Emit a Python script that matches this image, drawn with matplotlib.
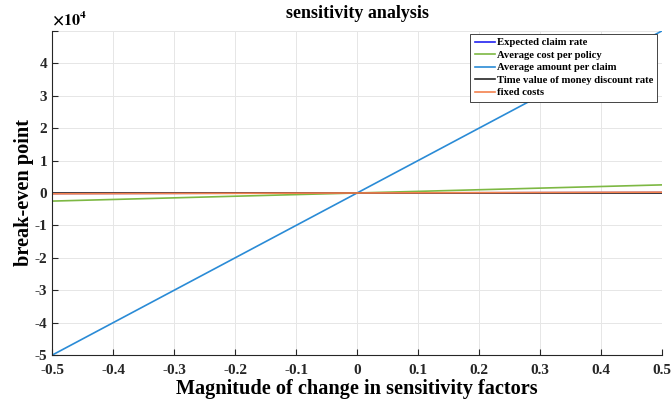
import matplotlib
matplotlib.use("Agg")
import matplotlib.pyplot as plt
from matplotlib.ticker import FuncFormatter, MultipleLocator

x = [-0.5, -0.4, -0.3, -0.2, -0.1, 0.0, 0.1, 0.2, 0.3, 0.4, 0.5]
expected_claim_rate = [-150, -120, -90, -60, -30, 0, 30, 60, 90, 120, 150]
avg_cost_per_policy = [-2500, -2000, -1500, -1000, -500, 0, 500, 1000, 1500, 2000, 2500]
avg_amount_per_claim = [-50000, -40000, -30000, -20000, -10000, 0, 10000, 20000, 30000, 40000, 50000]
time_value_discount = [0, 0, 0, 0, 0, 0, 0, 0, 0, 0, 0]
fixed_costs = [-250, -200, -150, -100, -50, 0, 50, 100, 150, 200, 250]

series = [
    ("Expected claim rate", expected_claim_rate, "#2323F0"),
    ("Average cost per policy", avg_cost_per_policy, "#7DB843"),
    ("Average amount per claim", avg_amount_per_claim, "#2A8BD6"),
    ("Time value of money discount rate", time_value_discount, "#262626"),
    ("fixed costs", fixed_costs, "#F4824E"),
]

plt.rcParams['font.family'] = ['Liberation Serif', 'DejaVu Serif']
plt.rcParams['font.weight'] = 'bold'
plt.rcParams['mathtext.fontset'] = 'stix'

fig = plt.figure(figsize=(6.72, 4.05), dpi=100)
ax = fig.add_axes([0.0774, 0.123, 0.908, 0.801])

for name, vals, col in series:
    ax.plot(x, vals, color=col, lw=1.2, label=name)

ax.set_xlim(-0.5, 0.5)
ax.set_ylim(-50000, 50000)
ax.xaxis.set_major_locator(MultipleLocator(0.1))
ax.yaxis.set_major_locator(MultipleLocator(10000))


def xfmt(v, p):
    return "0" if abs(v) < 1e-9 else f"{v:.1f}"


def yfmt(v, p):
    if v > 45000:
        return ""
    if abs(v) < 1:
        return "0"
    return f"{v/1e4:.0f}"


ax.xaxis.set_major_formatter(FuncFormatter(xfmt))
ax.yaxis.set_major_formatter(FuncFormatter(yfmt))
ax.tick_params(direction='in', labelsize=11, length=4, width=0.8, colors='#262626', top=False, right=False)
ax.tick_params(axis='x', pad=6)
for lbl in ax.get_xticklabels() + ax.get_yticklabels():
    lbl.set_fontweight('bold')
ax.grid(True, color='#e6e6e6', lw=0.7)
ax.set_axisbelow(True)
for s in ['top', 'right']:
    ax.spines[s].set_visible(False)
for s in ['left', 'bottom']:
    ax.spines[s].set_color('#262626')
    ax.spines[s].set_linewidth(0.8)

ax.set_title("sensitivity analysis", fontsize=13, fontweight='bold', pad=9)
ax.set_xlabel("Magnitude of change in sensitivity factors", fontsize=14.6, fontweight='bold', labelpad=2)
ax.set_ylabel("break-even point", fontsize=14.6, fontweight='bold', labelpad=0)
ax.text(0.0, 1.004, r"$\times\mathbf{10^{4}}$", transform=ax.transAxes, fontsize=11.5,
        ha='left', va='bottom')

leg = ax.legend(loc='upper right', bbox_to_anchor=(0.992, 0.991), prop={'size': 7.7, 'weight': 'bold'},
                frameon=True, fancybox=False, edgecolor='#262626', framealpha=1,
                handlelength=1.9, handletextpad=0.15, borderpad=0.4, labelspacing=0.28, borderaxespad=0)
leg.get_frame().set_linewidth(0.6)

fig.savefig("out.png", dpi=100)
